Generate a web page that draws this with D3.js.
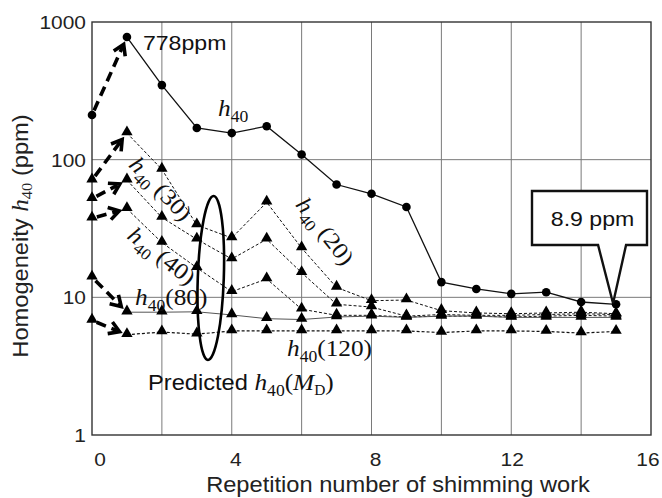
<!DOCTYPE html>
<html>
<head>
<meta charset="utf-8">
<script src="https://cdn.jsdelivr.net/npm/d3@7"></script>
<style>
  body { margin: 0; background: #fff; }
  .sans { font-family: 'Liberation Sans', Arial, sans-serif; }
  .serif { font-family: 'Liberation Serif', 'Times New Roman', serif; }
</style>
</head>
<body>
<svg id="chart" width="662" height="498"></svg>
<script>
// repetition number
const reps = [0, 1, 2, 3, 4, 5, 6, 7, 8, 9, 10, 11, 12, 13, 14, 15];
const xTicks = [0, 4, 8, 12, 16];
const yTicks = [1, 10, 100, 1000];

// measured h40 (ppm)
const h40 = [211, 778, 348, 170, 156, 175, 109, 66, 56.5, 45.3, 12.9, 11.5, 10.6, 10.9, 9.25, 8.9];
// predicted h40(M_D)
const h40_20 = [71, 156, 85, 33.5, 27, 49, 22.8, 11.8, 9.45, 9.56, 8.0, 7.7, 7.6, 7.7, 7.8, 7.6];
const h40_30 = [52, 71, 38, 26.4, 19, 26.4, 15.1, 8.9, 8.5, 7.3, 7.5, 7.4, 7.4, 7.5, 7.6, 7.5];
const h40_40 = [37.5, 44, 25, 16.4, 11, 13.6, 8.2, 7.4, 7.4, 7.2, 7.3, 7.3, 7.2, 7.3, 7.4, 7.3];
const h40_80 = [14, 7.8, 7.8, 7.85, 7.45, 7.0, 6.9, 7.2, 7.3, 7.15, 7.3, 7.3, 7.15, 7.15, 7.15, 7.15];
const h40_120 = [6.8, 5.35, 5.6, 5.4, 5.7, 5.7, 5.7, 5.7, 5.7, 5.7, 5.55, 5.7, 5.7, 5.65, 5.5, 5.65];

const svg = d3.select('#chart');
const plotLeft = 92, plotRight = 651, plotTop = 22, plotBottom = 435;
const stretch = 1.1; // the original lettering is a bit wide

const x = d3.scaleLinear().domain([0, 16]).range([plotLeft, plotRight]);
const y = d3.scaleLog().domain([1, 1000]).range([plotBottom, plotTop]);

function place(sel, px, py, rot) {
  return sel.attr('transform', `translate(${px}, ${py})${rot ? ` rotate(${rot})` : ''} scale(${stretch}, 1)`);
}

// grid
const grid = svg.append('g').attr('stroke', '#7a7a7a').attr('stroke-width', 1);
grid.selectAll('.vg').data(d3.range(2, 16, 2)).enter().append('line')
  .attr('x1', d => x(d)).attr('x2', d => x(d))
  .attr('y1', plotTop).attr('y2', plotBottom);
grid.selectAll('.hg').data([10, 100]).enter().append('line')
  .attr('x1', plotLeft).attr('x2', plotRight)
  .attr('y1', d => y(d)).attr('y2', d => y(d));

svg.append('rect')
  .attr('x', plotLeft).attr('y', plotTop)
  .attr('width', plotRight - plotLeft).attr('height', plotBottom - plotTop)
  .attr('fill', 'none').attr('stroke', '#333').attr('stroke-width', 1.4);

// tick labels
const xTickShift = [8, 4, 4, 1, -3];
svg.append('g').attr('class', 'sans').attr('font-size', 19).attr('fill', '#222')
  .selectAll('text').data(xTicks).enter().append('text')
  .attr('text-anchor', 'middle')
  .attr('transform', (d, i) => `translate(${x(d) + xTickShift[i]}, 466) scale(${stretch}, 1)`)
  .text(d => d);

svg.append('g').attr('class', 'sans').attr('font-size', 19).attr('fill', '#222')
  .selectAll('text').data(yTicks).enter().append('text')
  .attr('text-anchor', 'end')
  .attr('transform', d => `translate(86, ${y(d) + 7}) scale(${stretch}, 1)`)
  .text(d => d);

// axis titles
place(svg.append('text'), 398, 492)
  .attr('class', 'sans')
  .attr('font-size', 21.5).attr('fill', '#222')
  .attr('text-anchor', 'middle')
  .text('Repetition number of shimming work');

const yTitle = place(svg.append('text'), 28, 236, -90)
  .attr('class', 'sans')
  .attr('font-size', 21.5).attr('fill', '#222')
  .attr('text-anchor', 'middle');
yTitle.append('tspan').text('Homogeneity ');
yTitle.append('tspan').attr('class', 'serif').attr('font-style', 'italic').attr('font-size', 23).text('h');
yTitle.append('tspan').attr('class', 'serif').attr('font-size', 15).attr('dy', 4).text('40');
yTitle.append('tspan').attr('dy', -4).text(' (ppm)');

// series lines (from repetition 1 on; 0 -> 1 is drawn as an arrow)
const line = d3.line()
  .x((d, i) => x(reps[i + 1]))
  .y(d => y(d));

const predicted = [
  { values: h40_20, dash: '3,2', width: 1 },
  { values: h40_30, dash: '3,2', width: 1 },
  { values: h40_40, dash: '3,2', width: 1 },
  { values: h40_80, dash: null, width: 1 },
  { values: h40_120, dash: '3,2', width: 1.2 },
];

predicted.forEach((s) => {
  svg.append('path')
    .attr('d', line(s.values.slice(1)))
    .attr('fill', 'none')
    .attr('stroke', s.dash ? '#111' : '#555')
    .attr('stroke-width', s.width)
    .attr('stroke-dasharray', s.dash);
});

svg.append('path')
  .attr('d', line(h40.slice(1)))
  .attr('fill', 'none')
  .attr('stroke', '#111')
  .attr('stroke-width', 1.3);

// markers
const tri = d3.symbol().type(d3.symbolTriangle).size(56);
predicted.forEach((s) => {
  svg.append('g').selectAll('path').data(s.values).enter().append('path')
    .attr('d', tri)
    .attr('fill', '#000')
    .attr('transform', (d, i) => `translate(${x(reps[i])}, ${y(d) - 1})`);
});

svg.append('g').selectAll('circle').data(h40).enter().append('circle')
  .attr('cx', (d, i) => x(reps[i]))
  .attr('cy', d => y(d))
  .attr('r', 4.3)
  .attr('fill', '#000');

// bold dashed arrows from repetition 0 to 1
const arrows = svg.append('g')
  .attr('stroke', '#000')
  .attr('fill', 'none')
  .attr('stroke-width', 3.6);

[h40, h40_20, h40_30, h40_40, h40_80, h40_120].forEach((vals) => {
  const x0 = x(reps[0]), y0 = y(vals[0]);
  const x1 = x(reps[1]), y1 = y(vals[1]);
  const a = Math.atan2(y1 - y0, x1 - x0);
  const len = Math.hypot(x1 - x0, y1 - y0) - 8;
  const tx = x0 + Math.cos(a) * len, ty = y0 + Math.sin(a) * len;
  arrows.append('line')
    .attr('x1', x0 + Math.cos(a) * 5).attr('y1', y0 + Math.sin(a) * 5)
    .attr('x2', tx - Math.cos(a) * 3).attr('y2', ty - Math.sin(a) * 3)
    .attr('stroke-dasharray', '10,6');
  const arm = 12, spread = 0.55;
  arrows.append('path')
    .attr('stroke-linejoin', 'miter')
    .attr('d', `M${tx - arm * Math.cos(a - spread)},${ty - arm * Math.sin(a - spread)}`
      + `L${tx},${ty}`
      + `L${tx - arm * Math.cos(a + spread)},${ty - arm * Math.sin(a + spread)}`);
});

// series labels
function h40Label(g, suffix) {
  g.attr('class', 'serif').attr('font-size', 23).attr('fill', '#111');
  g.append('tspan').attr('font-style', 'italic').text('h');
  g.append('tspan').attr('font-size', 16).attr('dy', 6).text('40');
  g.append('tspan').attr('dy', -6).text(suffix);
  return g;
}

h40Label(place(svg.append('text'), 218, 116), '');
h40Label(place(svg.append('text').attr('text-anchor', 'middle'), 155, 194, 46), ' (30)');
h40Label(place(svg.append('text').attr('text-anchor', 'middle'), 157, 262, 38), ' (40)');
h40Label(place(svg.append('text').attr('text-anchor', 'middle'), 319, 236, 52), ' (20)');
h40Label(place(svg.append('text'), 135, 305), '(80)');
h40Label(place(svg.append('text'), 287, 356), '(120)');

// predicted label
const pred = place(svg.append('text'), 148, 390).attr('font-size', 23).attr('fill', '#111');
pred.append('tspan').attr('class', 'sans').attr('font-size', 21.5).text('Predicted ');
pred.append('tspan').attr('class', 'serif').attr('font-style', 'italic').text('h');
pred.append('tspan').attr('class', 'serif').attr('font-size', 16).attr('dy', 6).text('40');
pred.append('tspan').attr('class', 'serif').attr('dy', -6).text('(');
pred.append('tspan').attr('class', 'serif').attr('font-style', 'italic').text('M');
pred.append('tspan').attr('class', 'serif').attr('font-size', 14).attr('dy', 5).text('D');
pred.append('tspan').attr('class', 'serif').attr('dy', -5).text(')');

// ellipse around predicted curves
svg.append('ellipse')
  .attr('cx', 0).attr('cy', 0)
  .attr('rx', 13).attr('ry', 82)
  .attr('transform', `translate(${x(3.4)}, 278) rotate(2)`)
  .attr('fill', 'none').attr('stroke', '#000').attr('stroke-width', 2.6);

// 778 ppm annotation
place(svg.append('text'), x(1) + 16, y(778) + 13)
  .attr('class', 'sans').attr('font-size', 21).attr('fill', '#111')
  .text('778ppm');

// 8.9 ppm callout
const tipX = x(15) - 3, tipY = y(8.9) - 1;
const bx0 = 532, bx1 = 647, by0 = 191, by1 = 245;
svg.append('path')
  .attr('d', `M${bx0},${by0}L${bx1},${by0}L${bx1},${by1}L${tipX + 13},${by1}`
    + `L${tipX},${tipY}L${tipX - 15},${by1}L${bx0},${by1}Z`)
  .attr('fill', '#fff').attr('stroke', '#111').attr('stroke-width', 2.4)
  .attr('stroke-linejoin', 'miter');
place(svg.append('text'), (bx0 + bx1) / 2 + 3, 226)
  .attr('class', 'sans').attr('font-size', 21).attr('fill', '#111')
  .attr('text-anchor', 'middle')
  .text('8.9 ppm');
</script>
</body>
</html>
